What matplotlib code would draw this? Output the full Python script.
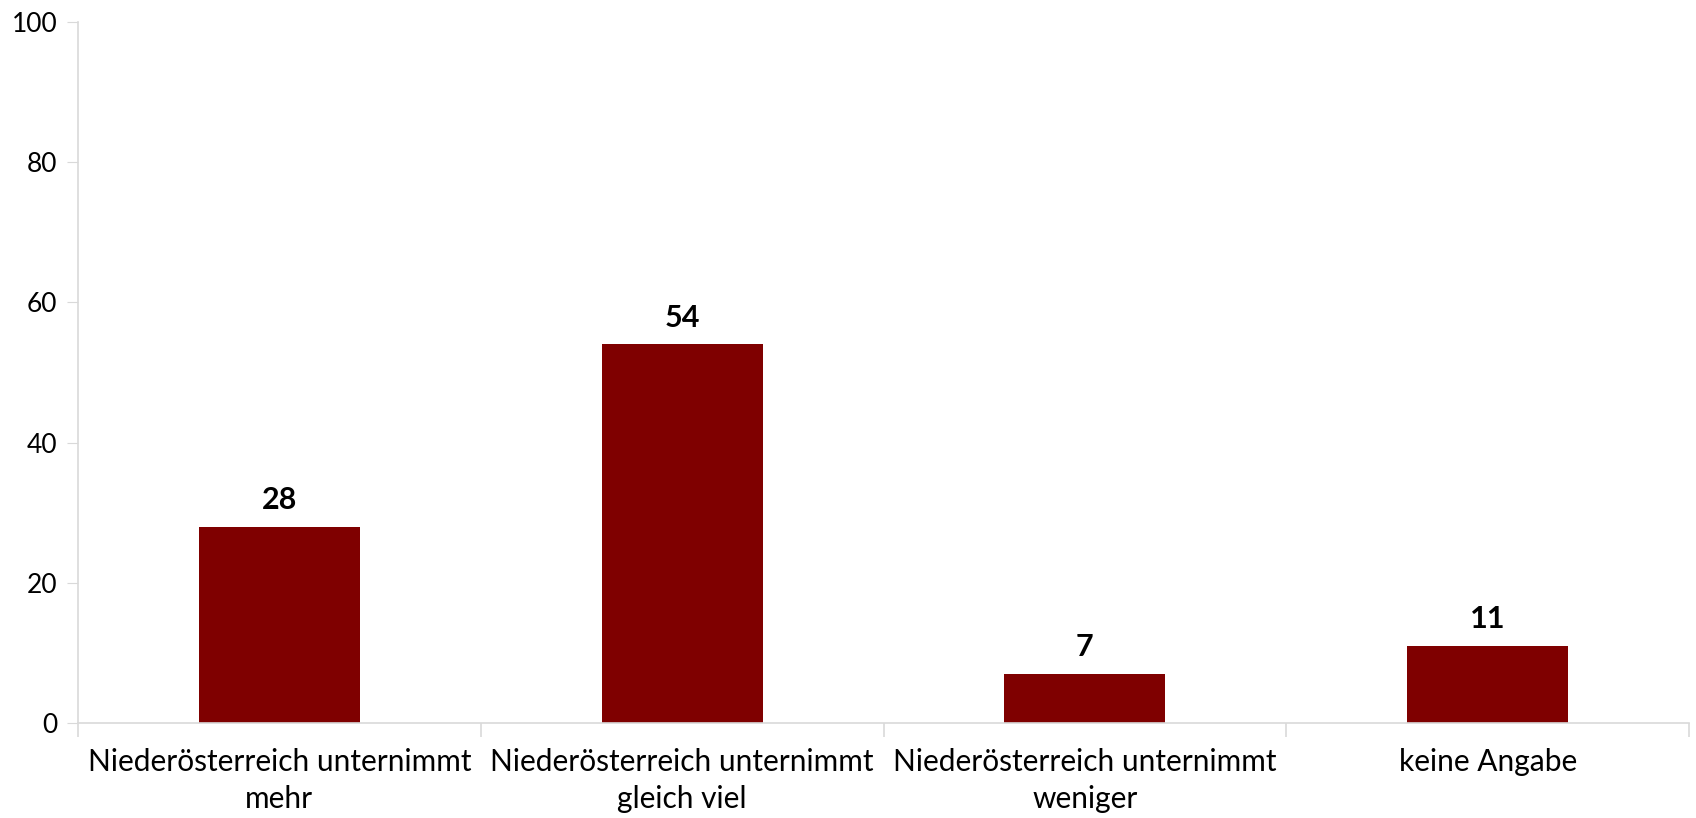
import matplotlib.pyplot as plt

categories = ["Niederösterreich unternimmt\nmehr", "Niederösterreich unternimmt\ngleich viel",
              "Niederösterreich unternimmt\nweniger", "keine Angabe"]
values = [28, 54, 7, 11]
yticks = [0, 20, 40, 60, 80, 100]

plt.rcParams["font.family"] = ["Lato", "DejaVu Sans"]

fig = plt.figure(figsize=(16.96, 8.18), dpi=100)
ax = fig.add_axes([0.046, 0.1161, 0.9499, 0.857])

x = range(len(categories))
bars = ax.bar(x, values, width=0.4, color="#7f0000", zorder=2)

for b, v in zip(bars, values):
    ax.annotate(str(v), (b.get_x() + b.get_width() / 2, v), xytext=(0, 9),
                textcoords="offset points", ha="center", va="bottom",
                fontsize=22, fontweight="bold", color="black")

ax.set_xlim(-0.5, len(categories) - 0.5)
ax.set_ylim(0, 100)
ax.set_yticks(yticks)
ax.tick_params(axis="y", labelsize=19, length=8, color="#d9d9d9", pad=7)

ax.set_xticks(x)
ax.set_xticklabels(categories, fontsize=21.5, linespacing=1.4)
ax.tick_params(axis="x", length=0, pad=18)
# category boundary ticks
ax.set_xticks([i - 0.5 for i in range(len(categories) + 1)], minor=True)
ax.tick_params(axis="x", which="minor", length=10, color="#d9d9d9", width=1.2)

for s in ["top", "right"]:
    ax.spines[s].set_visible(False)
for s in ["left", "bottom"]:
    ax.spines[s].set_color("#d9d9d9")
    ax.spines[s].set_linewidth(1.2)

fig.savefig("out.png", dpi=100)
